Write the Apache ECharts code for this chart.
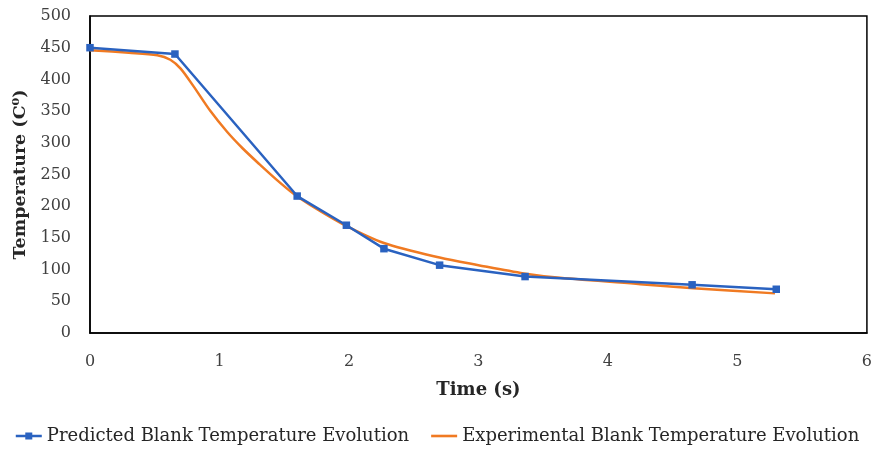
<!DOCTYPE html>
<html>
<head>
<meta charset="utf-8">
<script src="https://cdn.jsdelivr.net/npm/echarts@6/dist/echarts.min.js"></script>
<style>
html,body{margin:0;padding:0;background:#fff;}
#chart{width:875px;height:456px;}
</style>
</head>
<body>
<div id="chart"></div>
<script>
// Predicted blank temperature (time s, temperature)
const predictedTime = [0, 0.656, 1.60, 1.98, 2.27, 2.70, 3.36, 4.65, 5.30];
const predictedTemp = [450, 440, 216, 170, 133, 107, 89, 76, 69];
// Experimental blank temperature
const experimentalTime = [0, 0.30, 0.52, 0.62, 0.70, 0.80, 0.93, 1.06, 1.18, 1.31, 1.44, 1.57, 1.70, 1.96, 2.27, 2.70, 3.00, 3.35, 3.63, 4.25, 4.66, 5.29];
const experimentalTemp = [446, 442, 438, 431, 417, 389, 350, 317, 291, 266, 242, 220, 202, 171, 142, 119, 107, 94, 87, 77, 70.5, 62.5];
const seriesNames = ['Predicted Blank Temperature Evolution', 'Experimental Blank Temperature Evolution'];

const pair = (xs, ys) => xs.map((x, i) => [x, ys[i]]);
const font = '"DejaVu Serif", "Liberation Serif", serif';
const chart = echarts.init(document.getElementById('chart'));
chart.setOption({
  animation: false,
  backgroundColor: '#fff',
  grid: {left: 90, top: 16, right: 8, bottom: 123, show: true, borderColor: '#000', borderWidth: 1.5},
  xAxis: {
    type: 'value', min: 0, max: 6, interval: 1,
    name: 'Time (s)', nameLocation: 'middle', nameGap: 48,
    nameTextStyle: {fontFamily: font, fontSize: 18, fontWeight: 'bold', color: '#262626'},
    axisLine: {show: true, lineStyle: {color: '#000', width: 1.5}},
    axisTick: {show: false}, splitLine: {show: false},
    axisLabel: {fontFamily: font, fontSize: 16, color: '#404040', margin: 21}
  },
  yAxis: {
    type: 'value', min: 0, max: 500, interval: 50,
    name: 'Temperature (C\u2070)', nameLocation: 'middle', nameGap: 61,
    nameTextStyle: {fontFamily: font, fontSize: 17.5, fontWeight: 'bold', color: '#262626'},
    axisLine: {show: true, lineStyle: {color: '#000', width: 1.5}},
    axisTick: {show: false}, splitLine: {show: false},
    axisLabel: {fontFamily: font, fontSize: 16, color: '#404040', margin: 19}
  },
  legend: {
    bottom: 6, left: 'center', itemWidth: 26, itemHeight: 8, itemGap: 22, itemSpacing: 4,
    textStyle: {fontFamily: font, fontSize: 18, color: '#262626'},
    data: [
      {name: seriesNames[0], icon: 'path://M0,2.7 L26,2.7 L26,5.3 L0,5.3 Z M9.5,0.5 L16.5,0.5 L16.5,7.5 L9.5,7.5 Z'},
      {name: seriesNames[1], icon: 'path://M0,0 L26,0 L26,2.6 L0,2.6 Z'}
    ]
  },
  series: [
    {
      name: seriesNames[0], type: 'line', data: pair(predictedTime, predictedTemp),
      symbol: 'rect', symbolSize: 7.5, showSymbol: true,
      lineStyle: {color: '#2A62C0', width: 2.5}, itemStyle: {color: '#2A62C0'}, z: 3
    },
    {
      name: seriesNames[1], type: 'line', data: pair(experimentalTime, experimentalTemp),
      smooth: 0.3, showSymbol: false, symbol: 'none',
      lineStyle: {color: '#F07A22', width: 2.5}, itemStyle: {color: '#F07A22'}, z: 2
    }
  ]
});
</script>
</body>
</html>
